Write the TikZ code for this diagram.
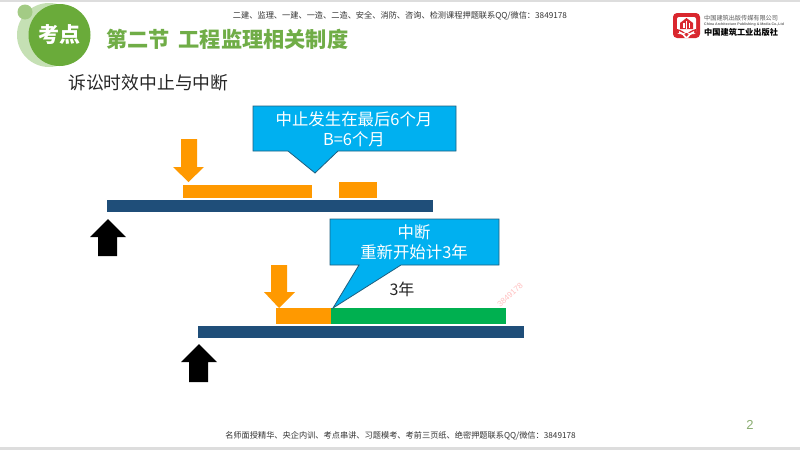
\documentclass[tikz,border=0pt]{standalone}
\usepackage{fontspec}
\setmainfont{Noto Sans CJK SC}
\newfontfamily\latinf{Liberation Sans}
\definecolor{navybar}{HTML}{1F4E79}
\definecolor{orangebar}{HTML}{FF9900}
\definecolor{greenbar}{HTML}{00B050}
\definecolor{calloutfill}{HTML}{00B0F0}
\definecolor{calloutline}{HTML}{1F5F7F}
\definecolor{titlegreen}{HTML}{70AD47}
\definecolor{badgelight}{HTML}{C5E0B4}
\definecolor{badgemid}{HTML}{A3CB85}
\definecolor{badgedark}{HTML}{6AAB3A}
\definecolor{logored}{HTML}{D9272E}
\definecolor{framegray}{HTML}{DDDDDD}
\tikzset{
  x=1pt,y=-1pt,
  timebar/.style={fill=navybar,draw=none},
  orangeblock/.style={fill=orangebar,draw=none},
  greenblock/.style={fill=greenbar,draw=none},
  downarrow/.style={fill=orangebar,draw=none},
  uparrow/.style={fill=black,draw=none},
  calloutshape/.style={fill=calloutfill,draw=calloutline,line width=0.8pt,line join=miter},
  callouttext/.style={text=white,font=\fontsize{16.4}{20}\selectfont,align=center,inner sep=0pt},
  smallprint/.style={text=black!80,font=\fontsize{8.2}{10}\selectfont,inner sep=0pt},
  wmark/.style={text=red!25,font=\latinf\fontsize{8}{9}\selectfont,inner sep=0pt,rotate=42},
  titletext/.style={anchor=west,text=titlegreen,font=\fontsize{21.2}{25}\bfseries\selectfont,inner sep=0pt},
}
\begin{document}
\begin{tikzpicture}
\useasboundingbox (0,0) rectangle (800,450);
\fill[white] (0,0) rectangle (800,450);
\fill[framegray] (0,0) rectangle (800,1.5);
\fill[framegray] (0,447) rectangle (800,450);
% badge
\fill[badgelight] (49,35) circle (32);
\fill[badgemid] (25,12) circle (7.5);
\fill[badgedark] (59.5,35) circle (31);
\node[text=white,font=\fontsize{21}{24}\bfseries\selectfont,inner sep=0pt] (badge) at (59,34.5) {考点};
\node[titletext] (titleA) at (106,39) {第二节};
\node[titletext] (titleB) at (178.5,39) {工程监理相关制度};
\node[anchor=west,text=black!85,font=\fontsize{17.8}{22}\selectfont,inner sep=0pt] (subtitle) at (68,82.5) {诉讼时效中止与中断};
\node[smallprint] (header) at (400,16) {二建、监理、一建、一造、二造、安全、消防、咨询、检测课程押题联系QQ/微信：3849178};
\node[smallprint] (footer) at (400.5,436) {名师面授精华、央企内训、考点串讲、习题模考、考前三页纸、绝密押题联系QQ/微信：3849178};
\node[text=badgemid!85!black,font=\latinf\fontsize{13}{15}\selectfont,inner sep=0pt] (pageno) at (750,425) {2};
% publisher logo
\fill[logored,rounded corners=4pt] (673,13) rectangle (700,38);
\fill[white,rounded corners=2pt] (677,17) rectangle (696,34);
\fill[logored] (686.5,18) -- (693,23) -- (693,29) -- (680,29) -- (680,23) -- cycle;
\fill[white] (686,21) rectangle (687,29);
\fill[white] (683,23) rectangle (684.5,28);
\fill[white] (688.5,23) rectangle (690,28);
\fill[logored] (677,29) .. controls (681,30) and (685,32) .. (686.5,35) .. controls (688,32) and (692,30) .. (696,29) -- (696,33) -- (677,33) -- cycle;
\fill[white] (679,31) .. controls (682,32) and (685,34) .. (686.5,37) .. controls (688,34) and (691,32) .. (694,31) -- (694,33) .. controls (691,34) and (689,36) .. (688,38) -- (685,38) .. controls (684,36) and (682,34) .. (679,33) -- cycle;
\node[anchor=west,text=black!65,font=\fontsize{6.15}{8}\selectfont,inner sep=0pt] (pubcn) at (704,18) {中国建筑出版传媒有限公司};
\node[anchor=west,text=black!60,font=\latinf\bfseries\fontsize{3.6}{4}\selectfont,inner sep=0pt] (puben) at (704,25) {China Architecture Publishing \& Media Co.,Ltd};
\node[anchor=west,text=black,font=\fontsize{8.2}{10}\bfseries\selectfont,inner sep=0pt] (pubname) at (704,32.5) {中国建筑工业出版社};
% first timeline
\fill[orangeblock] (183,185) rectangle (312,198);
\fill[orangeblock] (339,182) rectangle (377,198);
\fill[timebar] (107,200) rectangle (432.5,212);
\fill[downarrow] (181,139) -- (197,139) -- (197,167) -- (204,167) -- (188.5,182) -- (173,167) -- (181,167) -- cycle;
\fill[uparrow] (108,219) -- (126,237) -- (117,237) -- (117,256) -- (98,256) -- (98,237) -- (90,237) -- cycle;
\draw[calloutshape] (253,106) -- (456,106) -- (456,151) -- (338,151) -- (315,173) -- (288,151) -- (253,151) -- cycle;
\node[callouttext] (calloutA) at (354,129) {中止发生在最后6个月\\B=6个月};
% second timeline
\fill[orangeblock] (276,308) rectangle (331,324);
\fill[greenblock] (331,308) rectangle (506,324);
\fill[timebar] (198,326) rectangle (524,338);
\fill[downarrow] (271,265) -- (287,265) -- (287,292) -- (295,292) -- (279,308) -- (264,292) -- (271,292) -- cycle;
\fill[uparrow] (199,344) -- (217,362) -- (208,362) -- (208,382) -- (189,382) -- (189,362) -- (181,362) -- cycle;
\draw[calloutshape] (330,219) -- (499,219) -- (499,265) -- (401,265) -- (333,308) -- (359,265) -- (330,265) -- cycle;
\node[callouttext] (calloutB) at (414,242.5) {中断\\重新开始计3年};
\node[text=black!85,font=\fontsize{16}{20}\selectfont,inner sep=0pt] (threeyears) at (402,289) {3年};
\node[wmark] (watermark) at (510,295) {3849178};
\end{tikzpicture}
\end{document}
